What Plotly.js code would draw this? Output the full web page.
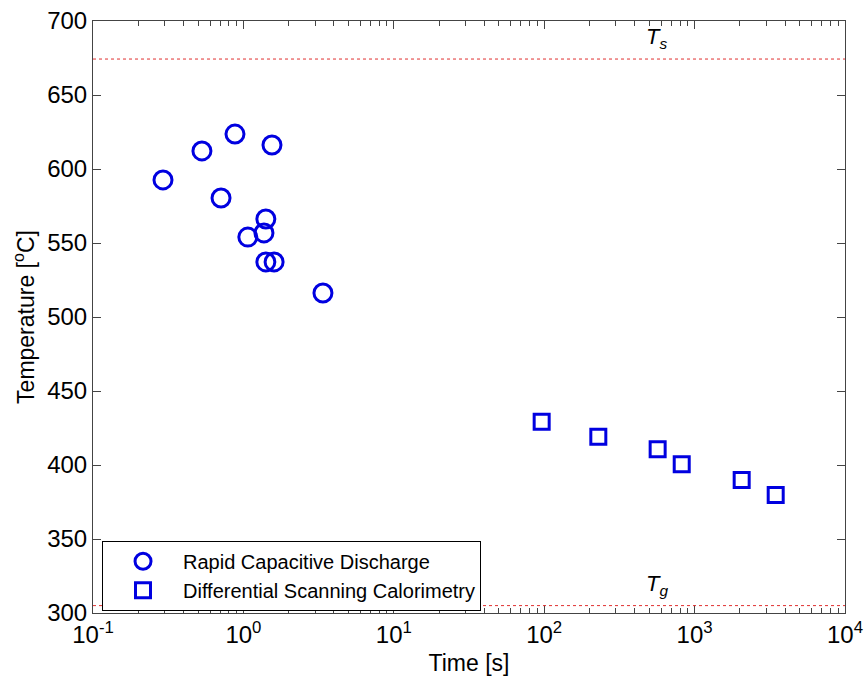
<!DOCTYPE html>
<html><head><meta charset="utf-8">
<script src="https://cdn.plot.ly/plotly-3.0.1.min.js"></script>
<style>body{margin:0;background:#fff}#chart{width:864px;height:683px}</style>
</head><body><div id="chart"></div>
<script>
// Rapid Capacitive Discharge
const rcdTime = [0.292, 0.530, 0.879, 1.549, 0.71, 1.41, 1.07, 1.37, 1.41, 1.60, 3.38];
const rcdTemp = [592.6, 612.2, 623.6, 616.2, 580.4, 566.2, 554, 556.8, 537.2, 537.2, 516.2];
// Differential Scanning Calorimetry
const dscTime = [96.2, 229, 568, 821, 2056, 3461];
const dscTemp = [429.3, 419.1, 410.6, 400.5, 389.9, 379.7];
// Reference temperatures
const refNames = ['T<sub>s</sub>', 'T<sub>g</sub>'];
const refTemps = [674.3, 305];
const xTickVals = [0.1, 1, 10, 100, 1000, 10000];
const xTickText = ['10<sup>-1</sup>', '10<sup>0</sup>', '10<sup>1</sup>', '10<sup>2</sup>', '10<sup>3</sup>', '10<sup>4</sup>'];
const yTickVals = [300, 350, 400, 450, 500, 550, 600, 650, 700];

const blue = '#0000e0';
const traces = [
  {x: rcdTime, y: rcdTemp, mode: 'markers', type: 'scatter', name: 'Rapid Capacitive Discharge',
   marker: {symbol: 'circle-open', size: 18, color: blue, line: {width: 3, color: blue}}},
  {x: dscTime, y: dscTemp, mode: 'markers', type: 'scatter', name: 'Differential Scanning Calorimetry',
   marker: {symbol: 'square-open', size: 15, color: blue, line: {width: 3, color: blue}}}
];
const shapes = refTemps.map(t => ({type: 'line', xref: 'paper', x0: 0, x1: 1, yref: 'y', y0: t, y1: t,
  line: {color: '#e03030', width: 1, dash: 'dot'}}));
const annotations = refTemps.map((t, i) => ({x: Math.log10(560), y: t, xref: 'x', yref: 'y',
  text: '<i>' + refNames[i] + '</i>', showarrow: false, yanchor: 'bottom', yshift: 5,
  font: {family: 'Liberation Sans, Arial', size: 22, color: '#000'}}));

const axisCommon = {showline: true, linecolor: '#444', linewidth: 1, mirror: 'ticks', ticks: 'inside',
  tickcolor: '#444', showgrid: false, zeroline: false,
  tickfont: {family: 'Liberation Sans, Arial', size: 24, color: '#000'}};
const layout = {
  width: 864, height: 683,
  margin: {l: 93, r: 19, t: 21, b: 70},
  paper_bgcolor: '#fff', plot_bgcolor: '#fff',
  font: {family: 'Liberation Sans, Arial', color: '#000'},
  showlegend: true,
  legend: {x: 0.012, y: 0.122, xanchor: 'left', yanchor: 'top', bordercolor: '#000', borderwidth: 1,
    bgcolor: '#fff', font: {size: 20}, tracegroupgap: 0, itemwidth: 70},
  xaxis: Object.assign({}, axisCommon, {type: 'log', range: [-1, 4], tickvals: xTickVals, ticktext: xTickText,
    ticklen: 8, minor: {ticks: 'inside', ticklen: 5, tickcolor: '#444', dtick: 'D1', showgrid: false},
    title: {text: 'Time [s]', font: {size: 23}, standoff: 8}}),
  yaxis: Object.assign({}, axisCommon, {range: [300, 700], tickvals: yTickVals, ticklen: 8,
    title: {text: 'Temperature [<sup>o</sup>C]', font: {size: 23}, standoff: 6}}),
  shapes: shapes,
  annotations: annotations
};
Plotly.newPlot('chart', traces, layout, {displayModeBar: false, staticPlot: true});
</script></body></html>
